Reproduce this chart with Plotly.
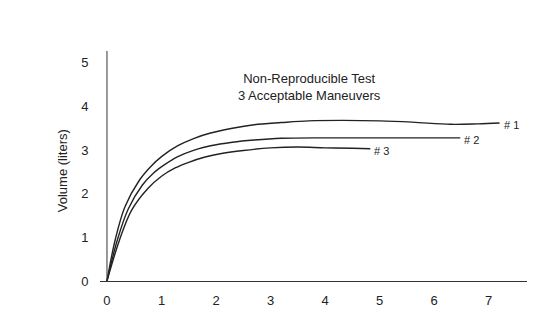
import plotly.graph_objects as go

# Maneuver #1
t1 = [0, 0.15, 0.33, 0.6, 0.8, 1.0, 1.3, 1.6, 1.9, 2.3, 2.7, 3.2, 3.7, 4.3, 5.0, 5.6, 6.3, 6.8, 7.2]
v1 = [0, 0.94, 1.70, 2.32, 2.62, 2.85, 3.10, 3.27, 3.39, 3.50, 3.58, 3.63, 3.67, 3.68, 3.67, 3.64, 3.59, 3.60, 3.62]
# Maneuver #2
t2 = [0, 0.19, 0.39, 0.65, 0.85, 1.05, 1.3, 1.6, 1.9, 2.3, 2.7, 3.2, 4.0, 5.0, 6.0, 6.48]
v2 = [0, 0.94, 1.65, 2.20, 2.47, 2.66, 2.85, 3.00, 3.10, 3.18, 3.23, 3.27, 3.28, 3.28, 3.28, 3.28]
# Maneuver #3
t3 = [0, 0.23, 0.45, 0.75, 1.0, 1.25, 1.5, 1.8, 2.1, 2.5, 3.0, 3.5, 4.0, 4.5, 4.83]
v3 = [0, 0.94, 1.62, 2.12, 2.40, 2.59, 2.72, 2.84, 2.92, 2.99, 3.05, 3.07, 3.05, 3.04, 3.03]

series = [("# 1", t1, v1), ("# 2", t2, v2), ("# 3", t3, v3)]
x_ticks = [0, 1, 2, 3, 4, 5, 6, 7]
y_ticks = [0, 1, 2, 3, 4, 5]

FONT = "Liberation Sans, Arial, sans-serif"
INK = "#222222"

fig = go.Figure()
for name, t, v in series:
    fig.add_trace(go.Scatter(x=t, y=v, mode="lines", name=name,
                             line=dict(color=INK, width=1.4, shape="spline", smoothing=1.0),
                             showlegend=False, hoverinfo="skip"))
    fig.add_annotation(x=t[-1], y=v[-1], text=name, showarrow=False,
                       xanchor="left", yanchor="middle", xshift=2, yshift=-2,
                       font=dict(family=FONT, size=11, color=INK))

fig.add_annotation(x=3.72, y=4.45, text="Non-Reproducible Test<br>3 Acceptable Maneuvers",
                   showarrow=False, xanchor="center", yanchor="middle",
                   font=dict(family=FONT, size=13, color=INK))

fig.add_annotation(xref="paper", yref="paper", x=-0.087, y=0.478, text="Volume (liters)",
                   textangle=-90, showarrow=False, xanchor="center", yanchor="middle",
                   font=dict(family=FONT, size=13, color=INK))

fig.add_shape(type="line", xref="x", yref="y", x0=0, x1=0, y0=0, y1=5.27,
              line=dict(color="#333333", width=1))

fig.update_layout(
    width=527, height=301,
    margin=dict(l=92, r=0, t=43, b=28),
    paper_bgcolor="white", plot_bgcolor="white",
    font=dict(family=FONT, size=13, color=INK),
    xaxis=dict(range=[-0.128, 7.85], tickvals=x_ticks, showgrid=False, zeroline=False,
               showline=True, linecolor="#333333", linewidth=1,
               ticks="outside", ticklen=7, tickcolor="rgba(0,0,0,0)"),
    yaxis=dict(range=[0, 5.27], tickvals=y_ticks, showgrid=False, zeroline=False,
               showline=False, ticks="outside", ticklen=8, tickcolor="rgba(0,0,0,0)"),
)

fig.write_html("out.html")
